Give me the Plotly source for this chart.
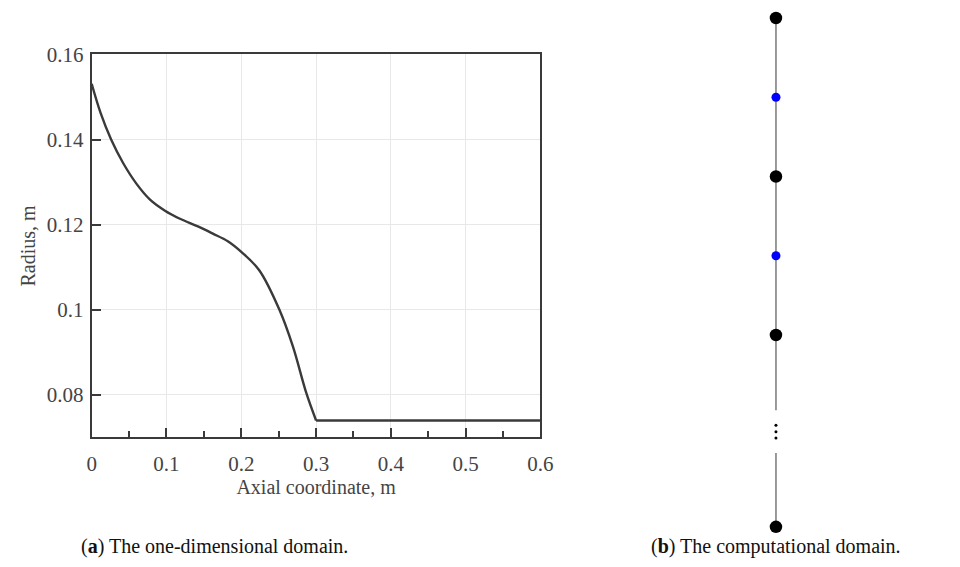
import plotly.graph_objects as go

# Nozzle radius profile along the axis (m)
axial_x = [0.0, 0.012, 0.026, 0.042, 0.06, 0.078, 0.098, 0.118, 0.142, 0.162, 0.182, 0.2, 0.224, 0.251, 0.269, 0.287, 0.3]
radius_y = [0.1531, 0.1462, 0.14, 0.1345, 0.1296, 0.1259, 0.1233, 0.1214, 0.1196, 0.1179, 0.1161, 0.1136, 0.1093, 0.1, 0.0914, 0.0804, 0.074]
outlet_x = [0.3, 0.6]
outlet_y = [0.074, 0.074]

x_ticks = [0, 0.1, 0.2, 0.3, 0.4, 0.5, 0.6]
x_tick_text = ["0", "0.1", "0.2", "0.3", "0.4", "0.5", "0.6"]
y_ticks = [0.08, 0.1, 0.12, 0.14, 0.16]
y_tick_text = ["0.08", "0.1", "0.12", "0.14", "0.16"]

# Computational grid: cell centres (black) and faces (blue), stacked vertically
centre_pos = [0, 2, 4, 6.42]
face_pos = [1, 3]
segment_upper = [0, 4.95]
segment_lower = [5.49, 6.42]
ellipsis_pos = [5.14, 5.22, 5.30]

SERIF = "Liberation Serif"
INK = "#3a3a3a"
W, H = 960, 567

fig = go.Figure()

fig.add_trace(go.Scatter(x=axial_x, y=radius_y, mode="lines",
                         line=dict(color=INK, width=2.4, shape="spline", smoothing=1.0),
                         xaxis="x", yaxis="y", showlegend=False, hoverinfo="skip"))
fig.add_trace(go.Scatter(x=outlet_x, y=outlet_y, mode="lines",
                         line=dict(color=INK, width=2.4),
                         xaxis="x", yaxis="y", showlegend=False, hoverinfo="skip"))

for seg in (segment_upper, segment_lower):
    fig.add_trace(go.Scatter(x=[0, 0], y=seg, mode="lines",
                             line=dict(color="#707070", width=1.4),
                             xaxis="x2", yaxis="y2", showlegend=False, hoverinfo="skip"))
fig.add_trace(go.Scatter(x=[0] * len(ellipsis_pos), y=ellipsis_pos, mode="markers",
                         marker=dict(color="black", size=3),
                         xaxis="x2", yaxis="y2", showlegend=False, hoverinfo="skip"))
fig.add_trace(go.Scatter(x=[0] * len(face_pos), y=face_pos, mode="markers",
                         marker=dict(color="#0000ff", size=9),
                         xaxis="x2", yaxis="y2", showlegend=False, hoverinfo="skip",
                         cliponaxis=False))
fig.add_trace(go.Scatter(x=[0] * len(centre_pos), y=centre_pos, mode="markers",
                         marker=dict(color="black", size=12.5),
                         xaxis="x2", yaxis="y2", showlegend=False, hoverinfo="skip",
                         cliponaxis=False))

tick_font = dict(family=SERIF, size=21, color="#444444")
title_font = dict(family=SERIF, size=20, color="#444444")

fig.update_layout(
    width=W, height=H,
    margin=dict(l=0, r=0, t=0, b=0, autoexpand=False),
    paper_bgcolor="white", plot_bgcolor="white",
    font=dict(family=SERIF, color="#333333", size=19),
    xaxis=dict(domain=[0.0955, 0.5630], range=[0, 0.6], anchor="y", automargin=False,
               tickvals=x_ticks, ticktext=x_tick_text,
               ticks="inside", ticklen=9, tickwidth=1.6, tickcolor=INK,
               minor=dict(dtick=0.05, tick0=0, ticks="inside", ticklen=6,
                          tickwidth=1.6, tickcolor=INK, showgrid=False),
               showline=True, linecolor=INK, linewidth=2, mirror=True,
               showgrid=True, gridcolor="#e8e8e8", gridwidth=1,
               zeroline=False, ticklabelstandoff=6,
               tickfont=tick_font,
               title=dict(text="Axial coordinate, m", standoff=5, font=title_font)),
    yaxis=dict(domain=[0.2284, 0.9039], range=[0.07, 0.16], anchor="x", automargin=False,
               tickvals=y_ticks, ticktext=y_tick_text,
               ticks="inside", ticklen=9, tickwidth=1.6, tickcolor=INK,
               showline=True, linecolor=INK, linewidth=2, mirror=True,
               showgrid=True, gridcolor="#e8e8e8", gridwidth=1,
               zeroline=False, ticklabelstandoff=2,
               tickfont=tick_font,
               title=dict(text="Radius, m", standoff=6, font=title_font)),
    xaxis2=dict(domain=[0.7583, 0.8583], range=[-1, 1], anchor="y2",
                visible=False, automargin=False),
    yaxis2=dict(domain=[0, 1], range=[6.927, -0.227], anchor="x2",
                visible=False, automargin=False),
)

# Sub-figure captions, positioned in pixels
captions = [("(<b>a</b>) The one-dimensional domain.", 214, 546),
            ("(<b>b</b>) The computational domain.", 776, 546)]
for text, px, py in captions:
    fig.add_annotation(text=text, x=px / W, y=1 - py / H, xref="paper", yref="paper",
                       xanchor="center", yanchor="middle", showarrow=False,
                       font=dict(family=SERIF, size=20, color="#111111"))

fig.write_html("out.html")
